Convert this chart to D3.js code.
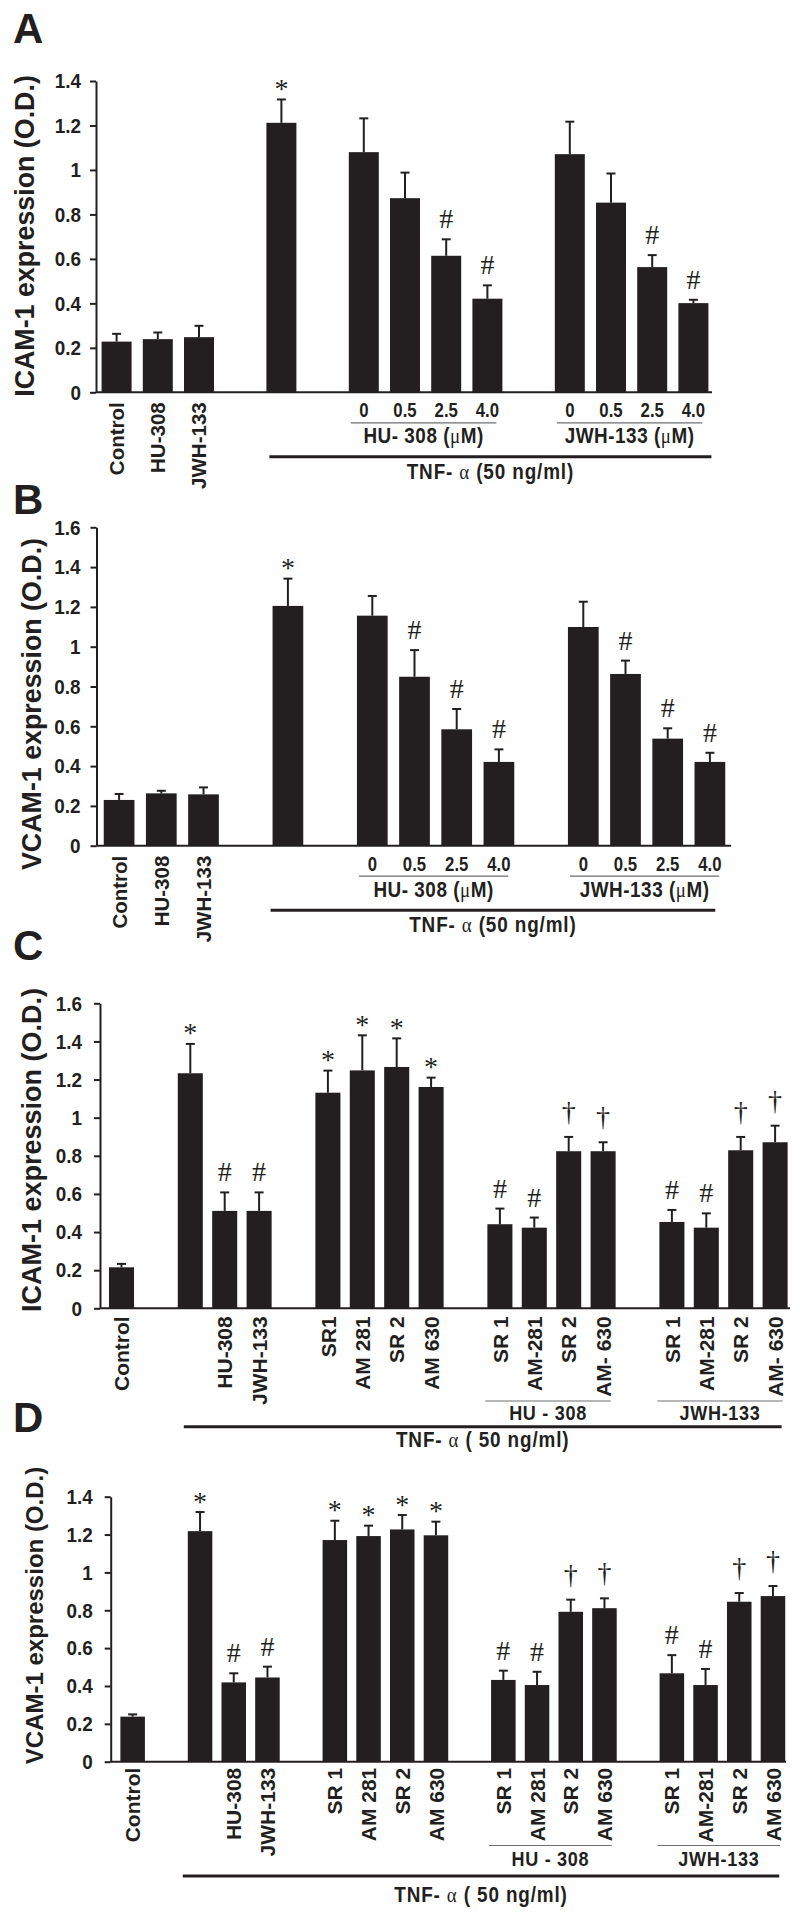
<!DOCTYPE html>
<html><head><meta charset="utf-8">
<script src="https://cdn.jsdelivr.net/npm/d3@7"></script>
<style>
body{margin:0;background:#fff}
svg{display:block}
text{font-family:'Liberation Sans',Arial,Helvetica,sans-serif;font-weight:bold;fill:#231f20}
text.mark,tspan.greek{font-family:'Liberation Serif','Times New Roman',serif;font-weight:normal}
</style>
</head><body>
<svg id="chart" width="800" height="1912"></svg>
<script>
// ---------------- DATA ----------------
// Panels A & B : dose response
const doseGroups = [
  ["Control","HU-308","JWH-133"],
  ["TNF"],
  ["HU 0","HU 0.5","HU 2.5","HU 4.0"],
  ["JWH 0","JWH 0.5","JWH 2.5","JWH 4.0"]
];
const doseLabels = ["Control","HU-308","JWH-133","","0","0.5","2.5","4.0","0","0.5","2.5","4.0"];
const doseSubLabels = ["HU- 308 (","JWH-133 ("];
const icamDoseMean  = [0.228,0.239,0.248,1.212,1.080,0.873,0.614,0.421,1.071,0.853,0.563,0.401];
const icamDoseUpper = [0.263,0.269,0.299,1.317,1.232,0.988,0.688,0.481,1.217,0.984,0.617,0.416];
const icamDoseMark  = ["","","","*","","","#","#","","","#","#"];
const vcamDoseMean  = [0.230,0.263,0.258,1.205,1.156,0.849,0.585,0.421,1.099,0.863,0.538,0.421];
const vcamDoseUpper = [0.260,0.276,0.293,1.342,1.255,0.983,0.687,0.484,1.226,0.930,0.590,0.467];
const vcamDoseMark  = ["","","","*","","#","#","#","","#","#","#"];

// Panels C & D : antagonists
const antGroups = [
  ["Control"],
  ["TNF","HU-308","JWH-133"],
  ["SR1","AM281","SR2","AM630"],
  ["HU+SR1","HU+AM281","HU+SR2","HU+AM630"],
  ["JWH+SR1","JWH+AM281","JWH+SR2","JWH+AM630"]
];
const icamAntLabels = ["Control","","HU-308","JWH-133","SR1","AM 281","SR 2","AM 630","SR 1","AM-281","SR 2","AM- 630","SR 1","AM-281","SR 2","AM- 630"];
const vcamAntLabels = ["Control","","HU-308","JWH-133","SR 1","AM 281","SR 2","AM 630","SR 1","AM 281","SR 2","AM 630","SR 1","AM-281","SR 2","AM 630"];
const antSubLabels = ["HU - 308","JWH-133"];
const icamAntMean  = [0.215,1.233,0.511,0.511,1.131,1.248,1.266,1.161,0.441,0.423,0.824,0.824,0.453,0.423,0.829,0.871];
const icamAntUpper = [0.233,1.387,0.608,0.608,1.247,1.432,1.416,1.210,0.523,0.476,0.899,0.871,0.516,0.498,0.899,0.958];
const icamAntMark  = ["","*","#","#","*","*","*","*","#","#","\u2020","\u2020","#","#","\u2020","\u2020"];
const vcamAntMean  = [0.238,1.218,0.419,0.445,1.171,1.192,1.227,1.196,0.432,0.405,0.792,0.811,0.467,0.405,0.845,0.875];
const vcamAntUpper = [0.250,1.319,0.467,0.502,1.273,1.247,1.303,1.268,0.481,0.475,0.856,0.863,0.563,0.490,0.891,0.928];
const vcamAntMark  = ["","*","#","#","*","*","*","*","#","#","\u2020","\u2020","#","#","\u2020","\u2020"];

const ticks14 = [0,0.2,0.4,0.6,0.8,1,1.2,1.4];
const ticks16 = [0,0.2,0.4,0.6,0.8,1,1.2,1.4,1.6];
const letters = ["A","B","C","D"];
const titles = ["ICAM-1 expression (O.D.)","VCAM-1 expression (O.D.)","ICAM-1 expression (O.D.)","VCAM-1 expression (O.D.)"];
const tnfTexts = ["(50 ng/ml)","(50 ng/ml)","( 50 ng/ml)","( 50 ng/ml)"];

// ---------------- LAYOUT ----------------
const INK = "#231f20";
const NARROW = 0.86;
const layouts = [
  {type:"dose", letterY:43.3, axisX:96, range:[96,714], y0:392.3, yTop:81, yMax:1.4, axisEnd:712, tickPad:9,
   titleX:33.6, titleY:236, titleSize:26.8, thickStart:3, thickEnd:3},
  {type:"dose", letterY:514, axisX:96.5, range:[98,731], y0:845.7, yTop:527.3, yMax:1.6, axisEnd:731, tickPad:10,
   titleX:41.2, titleY:704, titleSize:26.8, thickStart:-2, thickEnd:-10},
  {type:"ant", letterY:960, axisX:100, range:[104.3,792.3], y0:1308.3, yTop:1003.3, yMax:1.6, axisEnd:790, tickPad:12,
   titleX:41, titleY:1150, titleSize:27, labelOff:8, subLine:92.7, subText:112, thick:118.4, tnf:139, thickStart:6, thickEnd:-6},
  {type:"ant", letterY:1431.7, axisX:110.7, range:[115.8,789.8], y0:1761.7, yTop:1496.7, yMax:1.4, axisEnd:786, tickPad:12,
   titleX:43, titleY:1615.5, titleSize:24, labelOff:6, subLine:83.8, subText:104.5, thick:114.3, tnf:140, thickStart:-5, thickEnd:-6}
];
const panelData = [
  {groups:doseGroups, labels:doseLabels, mean:icamDoseMean, upper:icamDoseUpper, mark:icamDoseMark, ticks:ticks14, sub:doseSubLabels},
  {groups:doseGroups, labels:doseLabels, mean:vcamDoseMean, upper:vcamDoseUpper, mark:vcamDoseMark, ticks:ticks16, sub:doseSubLabels},
  {groups:antGroups, labels:icamAntLabels, mean:icamAntMean, upper:icamAntUpper, mark:icamAntMark, ticks:ticks16, sub:antSubLabels},
  {groups:antGroups, labels:vcamAntLabels, mean:vcamAntMean, upper:vcamAntUpper, mark:vcamAntMark, ticks:ticks14, sub:antSubLabels}
];
const markOffset = {"*":1.5, "#":11, "\u2020":16};

const svg = d3.select("#chart");

function buildDomain(groups){
  const d = [];
  groups.forEach((g,i)=>{ if(i>0) d.push("gap"+i); d.push(...g); });
  return d;
}

// condensed text placed at (x,y)
function narrowText(parent, x, y, size, spacing){
  return parent.append("text")
    .attr("transform",`translate(${x},${y}) scale(${NARROW},1)`)
    .attr("text-anchor","middle").attr("font-size",size).attr("letter-spacing",spacing||0);
}

function drawPanel(i){
  const L = layouts[i], D = panelData[i];
  const keys = D.groups.flat();
  const x = d3.scaleBand().domain(buildDomain(D.groups)).range(L.range).paddingInner(0.272).paddingOuter(0.136);
  const y = d3.scaleLinear().domain([0, L.yMax]).range([L.y0, L.yTop]);
  const bw = x.bandwidth();
  const g = svg.append("g");

  // panel letter
  g.append("text").attr("x",13).attr("y",L.letterY).attr("font-size",42).text(letters[i]);

  // y title
  g.append("text")
    .attr("transform",`translate(${L.titleX},${L.titleY}) rotate(-90)`)
    .attr("text-anchor","middle").attr("font-size",L.titleSize).text(titles[i]);

  // y axis
  const ax = g.append("g").attr("transform",`translate(${L.axisX},0)`)
    .call(d3.axisLeft(y).tickValues(D.ticks).tickFormat(d=>String(+d.toFixed(1)))
      .tickSize(6).tickSizeOuter(0).tickPadding(L.tickPad));
  ax.attr("font-family",null).attr("font-size",null);
  ax.select(".domain").attr("stroke",INK).attr("stroke-width",2);
  ax.selectAll(".tick line").attr("stroke",INK).attr("stroke-width",2);
  ax.selectAll(".tick text").attr("font-size",21).attr("fill",INK)
    .attr("x", -(6+L.tickPad)/0.9).attr("transform","scale(0.9,1)");

  // x axis line
  g.append("line").attr("x1",L.axisX).attr("x2",L.axisEnd).attr("y1",y(0)).attr("y2",y(0))
    .attr("stroke",INK).attr("stroke-width",2);

  // bars
  g.selectAll("rect.bar").data(keys).join("rect").attr("class","bar")
    .attr("x",k=>x(k)).attr("width",bw)
    .attr("y",(k,j)=>y(D.mean[j])).attr("height",(k,j)=>y(0)-y(D.mean[j]))
    .attr("fill",INK);

  // error bars
  const eb = g.selectAll("g.err").data(keys).join("g").attr("class","err");
  eb.append("line").attr("x1",k=>x(k)+bw/2).attr("x2",k=>x(k)+bw/2)
    .attr("y1",(k,j)=>y(D.mean[j])).attr("y2",(k,j)=>y(D.upper[j]))
    .attr("stroke",INK).attr("stroke-width",2);
  eb.append("line").attr("x1",k=>x(k)+bw/2-4.5).attr("x2",k=>x(k)+bw/2+4.5)
    .attr("y1",(k,j)=>y(D.upper[j])).attr("y2",(k,j)=>y(D.upper[j]))
    .attr("stroke",INK).attr("stroke-width",2);

  // significance marks
  g.selectAll("text.mark").data(keys).join("text").attr("class","mark")
    .attr("x",k=>x(k)+bw/2)
    .attr("y",(k,j)=>y(D.upper[j]) - (markOffset[D.mark[j]]||0))
    .attr("text-anchor","middle").attr("font-size",28)
    .text((k,j)=>D.mark[j]);

  const y0 = y(0);
  const first = gr => x(gr[0]);
  const last = gr => x(gr[gr.length-1]) + bw;
  const tnfKey = D.groups[1][0];
  const lastKey = keys[keys.length-1];

  function tnfLabel(ta, tb, ty){
    const tt = narrowText(g, (ta+tb)/2, ty, 22, 1);
    tt.append("tspan").text("TNF- ");
    tt.append("tspan").attr("class","greek").text("\u03b1");
    tt.append("tspan").text(" " + tnfTexts[i]);
  }

  if(L.type === "dose"){
    // rotated labels for first group
    D.groups[0].forEach(k=>{
      const j = keys.indexOf(k);
      g.append("text").attr("transform",`translate(${x(k)+bw/2+7.4},${y0+10}) rotate(-90)`)
        .attr("text-anchor","end").attr("font-size",20.5).text(D.labels[j]);
    });
    // dose numbers and subgroup labels
    [D.groups[2], D.groups[3]].forEach((gr,gi)=>{
      gr.forEach(k=>{
        const j = keys.indexOf(k);
        narrowText(g, x(k)+bw/2, y0+25, 19.5, 0).text(D.labels[j]);
      });
      const xa = first(gr)+2, xb = last(gr)-6;
      g.append("line").attr("x1",xa).attr("x2",xb).attr("y1",y0+30.5).attr("y2",y0+30.5)
        .attr("stroke","#6d6e71").attr("stroke-width",1.2);
      const t = narrowText(g, (xa+xb)/2, y0+51, 22, 0.6);
      t.append("tspan").text(D.sub[gi]);
      t.append("tspan").attr("class","greek").text("\u03bc");
      t.append("tspan").text("M)");
    });
    const ta = x(tnfKey)+L.thickStart, tb = x(lastKey)+bw+L.thickEnd;
    g.append("line").attr("x1",ta).attr("x2",tb).attr("y1",y0+64.5).attr("y2",y0+64.5)
      .attr("stroke",INK).attr("stroke-width",3);
    tnfLabel(ta, tb, y0+86.5);
  } else {
    keys.forEach((k,j)=>{
      if(!D.labels[j]) return;
      g.append("text").attr("transform",`translate(${x(k)+bw/2+7.6},${y0+L.labelOff}) rotate(-90)`)
        .attr("text-anchor","end").attr("font-size",21).text(D.labels[j]);
    });
    [D.groups[3], D.groups[4]].forEach((gr,gi)=>{
      const xa = first(gr)-2, xb = last(gr)-5;
      g.append("line").attr("x1",xa).attr("x2",xb).attr("y1",y0+L.subLine).attr("y2",y0+L.subLine)
        .attr("stroke","#6d6e71").attr("stroke-width",1.2);
      narrowText(g, (xa+xb)/2, y0+L.subText, 21, 0.8).text(D.sub[gi]);
    });
    const ta = x(tnfKey)+L.thickStart, tb = x(lastKey)+bw+L.thickEnd;
    g.append("line").attr("x1",ta).attr("x2",tb).attr("y1",y0+L.thick).attr("y2",y0+L.thick)
      .attr("stroke",INK).attr("stroke-width",3);
    tnfLabel(ta, tb, y0+L.tnf);
  }
}

[0,1,2,3].forEach(drawPanel);
</script>
</body></html>
